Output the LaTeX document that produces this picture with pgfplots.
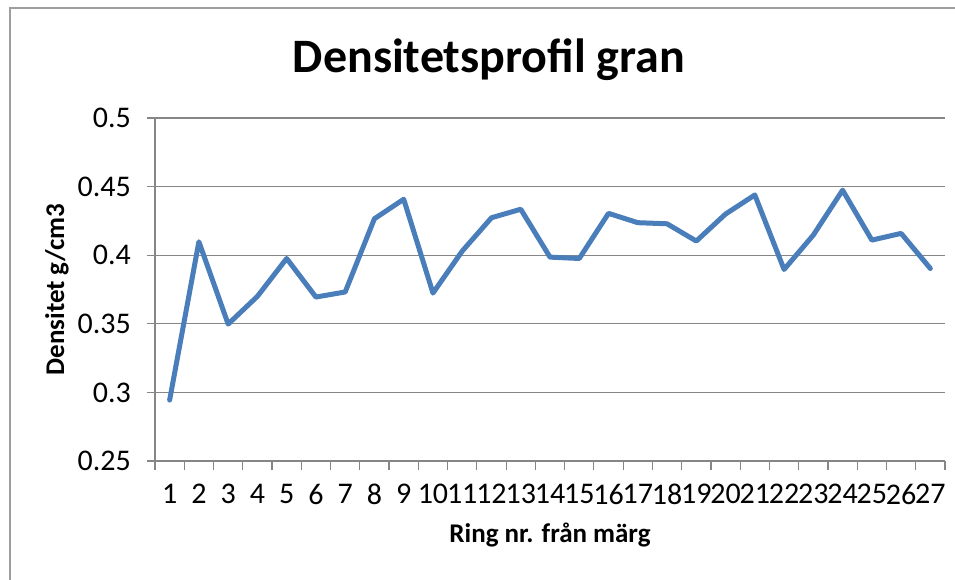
\documentclass[border=0pt]{standalone}
\usepackage{pgfplots}
\pgfplotsset{compat=1.18}
\usepackage{fontspec}
\setmainfont{Carlito}
\definecolor{linecol}{HTML}{4A7EBB}
\definecolor{gridcol}{HTML}{868686}
\begin{document}
\begin{tikzpicture}
\useasboundingbox (0pt,0pt) rectangle (955pt,579pt);
\draw[gridcol!80, line width=1.5pt] (10pt,-20pt) rectangle (968pt,571pt);
\node[font=\bfseries\fontsize{48}{58}\selectfont] at (489pt,519pt) {Densitetsprofil gran};
\begin{axis}[
  at={(155pt,118pt)}, anchor=south west,
  scale only axis, width=790pt, height=343pt,
  xmin=0.5, xmax=27.5, ymin=0.25, ymax=0.5,
  axis x line*=bottom, axis y line*=left,
  axis line style={gridcol, line width=1.3pt, -},
  xtick={1,...,27},
  minor xtick={0.5,1.5,...,27.5},
  major x tick style={draw=none},
  minor x tick style={gridcol, line width=1.2pt},
  minor tick length=9pt,
  major tick length=8pt,
  tick align=outside,
  ytick={0.25,0.3,0.35,0.4,0.45,0.5},
  yticklabels={0.25,0.3,0.35,0.4,0.45,0.5},
  xticklabels={1,2,3,4,5,6,7,8,9,10,11,12,13,14,15,16,17,18,19,20,21,22,23,24,25,26,27},
  y tick style={gridcol, line width=1.2pt},
  ymajorgrids, grid style={gridcol, line width=1.3pt},
  /pgf/number format/assume math mode=true,
  ticklabel style={font=\fontsize{30}{36}\selectfont, inner sep=0pt},
  xticklabel style={yshift=-15pt},
  yticklabel style={xshift=-16pt},
  xlabel={Ring nr. från märg},
  ylabel={Densitet g/cm3},
  label style={font=\bfseries\fontsize{27}{32}\selectfont},
  xlabel style={at={(axis description cs:0.5,0)}, anchor=center, yshift=-74pt},
  ylabel style={at={(axis description cs:0,0.5)}, anchor=center, yshift=98pt},
  clip=false,
]
\addplot[linecol, line width=5pt, line join=round, line cap=round] coordinates {
(1,0.2944) (2,0.4098) (3,0.3498) (4,0.3700) (5,0.3976) (6,0.3695) (7,0.3732)
(8,0.4266) (9,0.4408) (10,0.3724) (11,0.4030) (12,0.4273) (13,0.4335) (14,0.3986)
(15,0.3976) (16,0.4305) (17,0.4237) (18,0.4229) (19,0.4103) (20,0.4300) (21,0.4439)
(22,0.3896) (23,0.4147) (24,0.4474) (25,0.4110) (26,0.4159) (27,0.3903)
};
\end{axis}
\end{tikzpicture}
\end{document}
